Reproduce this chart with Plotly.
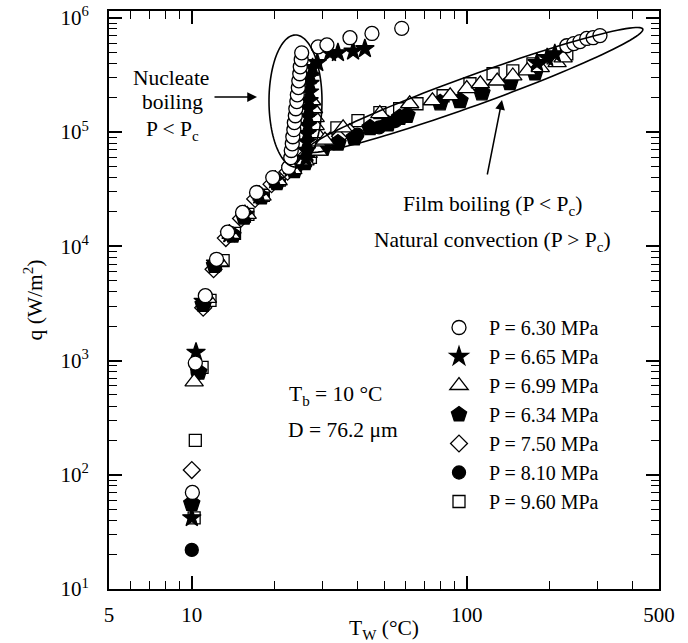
import numpy as np
import plotly.graph_objects as go

# ---------------- data ----------------
series_names = ["P = 6.30 MPa", "P = 6.65 MPa", "P = 6.99 MPa", "P = 6.34 MPa",
                "P = 7.50 MPa", "P = 8.10 MPa", "P = 9.60 MPa"]

T_630 = [10.05, 10.3, 11.2, 12.3, 13.5, 15.3, 17.2, 19.7, 22.5,
         22.9, 23.0, 23.2, 23.3, 23.5, 23.6, 23.8, 23.9, 24.1, 24.2, 24.4, 24.5, 24.7, 24.8, 25.0, 25.1,
         28.8, 31.0, 37.6, 45.2, 58.0,
         231, 245, 258, 273, 288, 305]
q_630 = [70, 950, 3.7e3, 7.7e3, 1.33e4, 1.98e4, 2.96e4, 4.0e4, 4.9e4,
         5.97e4, 6.9e4, 7.9e4, 9.1e4, 1.05e5, 1.21e5, 1.39e5, 1.6e5, 1.85e5, 2.12e5, 2.45e5, 2.81e5,
         3.24e5, 3.73e5, 4.3e5, 4.94e5,
         5.57e5, 5.8e5, 6.7e5, 7.3e5, 8.1e5,
         5.7e5, 5.95e5, 6.2e5, 6.6e5, 6.7e5, 7.0e5]

T_665 = [10.0, 10.36, 11.0, 12.2, 13.7, 15.6, 17.6, 20.1, 22.9,
         26.0, 26.1, 26.2, 26.3, 26.4, 26.5, 26.6, 26.7, 26.8, 26.9, 27.0, 27.5, 28.6,
         31.8, 34.0, 38.6, 42.6,
         180, 196, 209]
q_665 = [42, 1180, 3.3e3, 7.1e3, 1.28e4, 1.9e4, 2.8e4, 3.8e4, 4.8e4,
         5.85e4, 6.9e4, 8.2e4, 9.7e4, 1.14e5, 1.36e5, 1.6e5, 1.88e5, 2.24e5, 2.66e5, 3.1e5, 3.66e5, 4.05e5,
         4.94e5, 4.94e5, 5.1e5, 5.36e5,
         4.05e5, 4.47e5, 4.84e5]

T_699 = [10.2, 11.4, 12.6, 13.9, 15.9, 18.0, 20.6, 23.3, 25.8, 26.5,
         28.8, 28.5, 28.5, 28.1, 28.1, 27.7, 27.3,
         30.5, 35.5, 48.3, 62, 75, 87, 100, 112, 129, 147, 166, 185, 213, 224]
q_699 = [650, 3.5e3, 7.3e3, 1.27e4, 1.9e4, 2.75e4, 3.75e4, 4.7e4, 5.6e4, 6.5e4,
         6.8e4, 8.2e4, 9.7e4, 1.14e5, 1.34e5, 1.6e5, 1.88e5,
         8.5e4, 1.09e5, 1.45e5, 1.77e5, 1.88e5, 2.08e5, 2.4e5, 2.65e5, 2.8e5, 3.1e5, 3.44e5, 3.66e5,
         4.05e5, 4.47e5]

T_634 = [10.0, 10.6, 11.0, 12.1, 14.1, 15.5, 17.9, 20.4, 23.6, 25.8,
         30, 34, 39, 44.5, 51.7, 57, 60.6, 80, 94.5, 113.5, 143.5, 177]
q_634 = [56, 790, 3.1e3, 6.8e3, 1.25e4, 1.8e4, 2.7e4, 3.6e4, 4.6e4, 5.4e4,
         7.2e4, 8.0e4, 8.9e4, 1.09e5, 1.18e5, 1.34e5, 1.4e5, 1.8e5, 1.88e5, 2.2e5, 2.7e5, 3.3e5]

T_750 = [10.0, 11.0, 12.0, 13.3, 15.1, 17.0, 19.5, 22.3, 25.3, 28.6, 31.8, 34.6, 37.5]
q_750 = [110, 2.9e3, 6.3e3, 1.18e4, 1.75e4, 2.6e4, 3.5e4, 4.5e4, 5.8e4, 7.9e4, 8.4e4, 9.2e4, 1.0e5]

T_810 = [10.0, 10.5, 11.1, 12.2, 13.7, 15.4, 17.5, 20.0, 22.8, 33, 40, 48, 55]
q_810 = [22, 780, 3.2e3, 6.9e3, 1.24e4, 1.85e4, 2.7e4, 3.7e4, 4.6e4, 8.0e4, 9.5e4, 1.1e5, 1.25e5]

T_960 = [10.2, 10.3, 10.9, 11.65, 13.0, 14.3, 16.0, 18.2, 20.8, 23.5, 25.5, 27,
         30, 33.7, 40.2, 48.3, 57, 65.9, 82, 102.7, 124.6, 147, 174, 206, 231]
q_960 = [42, 200, 870, 3.36e3, 7.5e3, 1.3e4, 1.9e4, 2.8e4, 3.8e4, 4.9e4, 5.4e4, 6.0e4,
         8.5e4, 1.09e5, 1.26e5, 1.48e5, 1.6e5, 1.77e5, 2.08e5, 2.65e5, 3.24e5, 3.44e5, 3.96e5,
         4.47e5, 4.84e5]

x_ticks = [5, 10, 100, 500]
x_ticktext = ["5", "10", "100", "500"]
y_ticks = [1e1, 1e2, 1e3, 1e4, 1e5, 1e6]
y_ticktext = ["10<sup>1</sup>", "10<sup>2</sup>", "10<sup>3</sup>", "10<sup>4</sup>",
              "10<sup>5</sup>", "10<sup>6</sup>"]

# ---------------- figure ----------------
W, H = 688, 643
L, R, T, B = 109, 659, 11, 589
FONT = "Liberation Serif, Times New Roman, serif"


def px(x):
    return (x - L) / (R - L)


def py(y):
    return (B - y) / (B - T)


fig = go.Figure()

# drawing order (bottom -> top) with legend rank
styles = [
    # name, T, q, symbol, fill, size, rank
    (series_names[6], T_960, q_960, "square", "white", 12, 7),
    (series_names[5], T_810, q_810, "circle", "black", 13, 6),
    (series_names[4], T_750, q_750, "diamond", "white", 13, 5),
    (series_names[3], T_634, q_634, "pentagon", "black", 17, 4),
    (series_names[2], T_699, q_699, "triangle-up", "white", 16, 3),
    (series_names[1], T_665, q_665, "star", "black", 14, 2),
    (series_names[0], T_630, q_630, "circle", "white", 14, 1),
]
for name, xs, ys, sym, fill, size, rank in styles:
    fig.add_trace(go.Scatter(
        x=xs, y=ys, mode="markers", name="\u00a0\u00a0" + name, legendrank=rank,
        marker=dict(symbol=sym, size=size, color=fill,
                    line=dict(color="black", width=1.3)),
    ))


def ellipse_path(cx, cy, a, b, ang_deg, n=120):
    th = np.deg2rad(ang_deg)
    t = np.linspace(0, 2 * np.pi, n)
    xs = cx + a * np.cos(th) * np.cos(t) - b * np.sin(th) * np.sin(t)
    ys = cy + a * np.sin(th) * np.cos(t) + b * np.cos(th) * np.sin(t)
    pts = [f"{px(x):.5f},{py(y):.5f}" for x, y in zip(xs, ys)]
    return "M" + " L".join(pts) + " Z"


shapes = [
    dict(type="path", xref="paper", yref="paper",
         path=ellipse_path(295.5, 101, 26.5, 66, 0), line=dict(color="black", width=1.6)),
    dict(type="path", xref="paper", yref="paper",
         path=ellipse_path(474.5, 90, 179, 15, -19.9), line=dict(color="black", width=1.6)),
]

AF = dict(family=FONT, size=21.5, color="black")
ann = []


def txt(x, y, s, xanchor="center"):
    ann.append(dict(x=px(x), y=py(y), xref="paper", yref="paper", text=s, showarrow=False,
                    font=AF, xanchor=xanchor, yanchor="middle"))


txt(171, 78, "Nucleate")
txt(172, 102, "boiling")
txt(172, 131, "P &lt; P<sub>c</sub>")
txt(287, 395, "T<sub>b</sub> = 10 °C", "left")
txt(286, 430, "D = 76.2 μm", "left")
txt(492, 206, "Film boiling (P &lt; P<sub>c</sub>)")
txt(492, 241, "Natural convection (P &gt; P<sub>c</sub>)")

ann.append(dict(x=px(257), y=py(97), xref="paper", yref="paper", text="", showarrow=True,
                ax=-44, ay=0, arrowhead=2, arrowsize=1.3, arrowwidth=1.5, arrowcolor="black"))
ann.append(dict(x=px(502), y=py(100), xref="paper", yref="paper", text="", showarrow=True,
                ax=-15, ay=76, arrowhead=2, arrowsize=1.3, arrowwidth=1.5, arrowcolor="black"))

fig.update_layout(
    width=W, height=H,
    margin=dict(l=L, r=W - R, t=T, b=H - B, autoexpand=False),
    paper_bgcolor="white", plot_bgcolor="white",
    font=dict(family=FONT, size=21, color="black"),
    shapes=shapes, annotations=ann,
    showlegend=True,
    legend=dict(x=px(439), y=py(308), xanchor="left", yanchor="top",
                bgcolor="rgba(0,0,0,0)", font=dict(family=FONT, size=20),
                itemsizing="trace"),
)

xminor = [6, 7, 8, 9, 20, 30, 40, 50, 60, 70, 80, 90, 200, 300, 400]
yminor = [m * 10 ** k for k in range(1, 6) for m in range(2, 10)]

fig.update_xaxes(
    type="log", range=[np.log10(5), np.log10(500)], automargin=False,
    tickmode="array", tickvals=x_ticks, ticktext=x_ticktext,
    ticks="inside", ticklen=13, tickwidth=1.5, tickcolor="black",
    showline=True, linewidth=2, linecolor="black", mirror="ticks",
    showgrid=False, zeroline=False, ticklabelstandoff=6,
    minor=dict(tickmode="array", tickvals=xminor, ticks="inside", ticklen=8,
               tickwidth=1.2, tickcolor="black", showgrid=False),
    title=dict(text="T<sub>W</sub> (°C)", standoff=2, font=dict(family=FONT, size=21.5)),
)
fig.update_yaxes(
    type="log", range=[1, 6.06], automargin=False,
    tickmode="array", tickvals=y_ticks, ticktext=y_ticktext,
    ticks="inside", ticklen=13, tickwidth=1.5, tickcolor="black",
    showline=True, linewidth=2, linecolor="black", mirror="ticks",
    showgrid=False, zeroline=False, ticklabelstandoff=14,
    minor=dict(tickmode="array", tickvals=yminor, ticks="inside", ticklen=8,
               tickwidth=1.2, tickcolor="black", showgrid=False),
    title=dict(text="q (W/m<sup>2</sup>)", standoff=12, font=dict(family=FONT, size=21.5)),
)

fig.write_html("out.html")
